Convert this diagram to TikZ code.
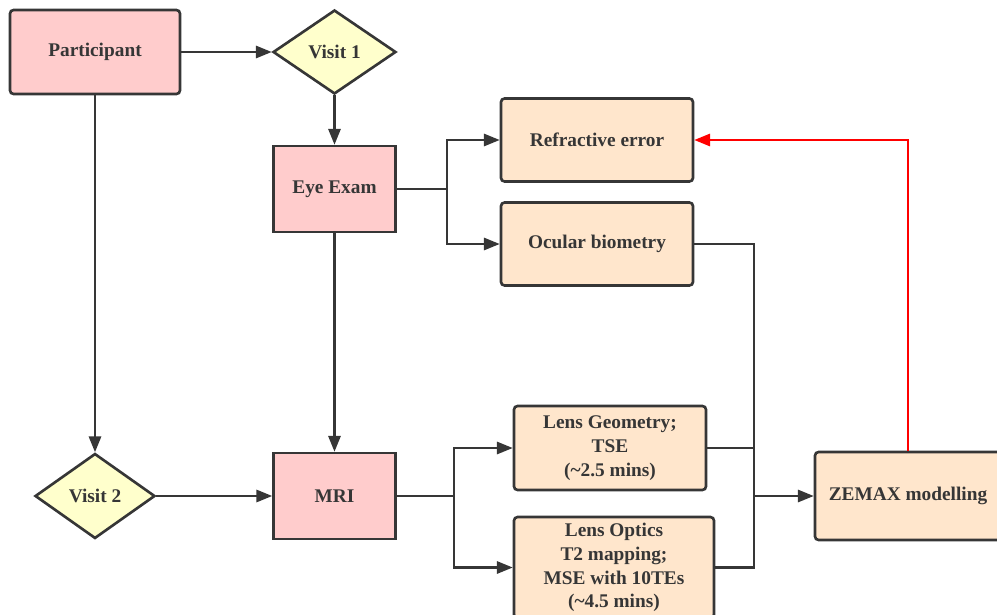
\documentclass[tikz,border=0pt]{standalone}
\usepackage{fontspec}
\setmainfont{Liberation Serif}
\usepackage{tikz}
\definecolor{pink200}{HTML}{FFCCCC}
\definecolor{peach200}{HTML}{FFE6CC}
\definecolor{yellow200}{HTML}{FFFFCC}
\definecolor{gray800}{HTML}{363636}
\usetikzlibrary{arrows.meta,shapes.geometric}
\tikzstyle{block}=[draw=gray800, line width=1.5pt, align=center, text=gray800, font=\bfseries\fontsize{11}{13.6}\selectfont]
\tikzstyle{pinkbox}=[block, fill=pink200, minimum width=2.44cm, minimum height=1.72cm]
\tikzstyle{peachbox}=[block, fill=peach200, rounded corners=2pt, minimum width=3.84cm, minimum height=1.66cm]
\tikzstyle{visit}=[block, diamond, fill=yellow200, aspect=1.46, inner sep=0pt, minimum width=2.46cm, minimum height=1.68cm]
\tikzstyle{wire}=[draw=gray800, line width=1.2pt]
\tikzstyle{link}=[wire, -{Triangle[length=9pt,width=7pt]}]

\begin{document}
\begin{tikzpicture}[x=0.02cm, y=-0.02cm]
			\useasboundingbox (0,0) rectangle (997,615);
			\node[pinkbox, rounded corners=2pt, minimum width=3.4cm, minimum height=1.68cm] (participant) at (95,52) {Participant};
			\node[visit] (visit1) at (334.5,52) {Visit 1};
			\node[pinkbox] (eye) at (334.5,189) {Eye Exam};
			\node[peachbox] (refr) at (597,140) {Refractive error};
			\node[peachbox] (ocular) at (597,244) {Ocular biometry};
			\node[visit, aspect=1.41, minimum width=2.4cm, minimum height=1.7cm] (visit2) at (95,496) {Visit 2};
			\node[pinkbox] (mri) at (334.5,496) {MRI};
			\node[peachbox, minimum height=1.68cm] (geom) at (610,448) {Lens Geometry;\\TSE\\(\textasciitilde2.5 mins)};
			\node[peachbox, minimum width=4cm, minimum height=1.86cm] (optics) at (614,567.5) {Lens Optics\\T2 mapping;\\MSE with 10TEs\\(\textasciitilde4.5 mins)};
			\node[peachbox, minimum width=3.72cm, minimum height=1.76cm] (zemax) at (908,496) {ZEMAX modelling};
			\coordinate (eyesplit) at (447,189);
			\coordinate (mrisplit) at (454,496);
			\coordinate (zjoin) at (754,496);
			\draw[link] (participant) -- (visit1);
			\draw[link] (visit1) -- (eye);
			\draw[link] (participant) -- (visit2);
			\draw[link] (eye) -- (mri);
			\draw[link] (visit2) -- (mri);
			\draw[wire] (eye) -- (eyesplit);
			\draw[link] (eyesplit) |- (refr);
			\draw[link] (eyesplit) |- (ocular);
			\draw[wire] (mri) -- (mrisplit);
			\draw[link] (mrisplit) |- (geom);
			\draw[link] (mrisplit) |- (optics);
			\draw[wire] (ocular.east) -| (zjoin) |- (optics.east);
			\draw[wire] (geom.east) -- (geom.east -| zjoin);
			\draw[link] (zjoin) -- (zemax);
			\draw[link, draw=red, color=red] (zemax.north) |- (refr.east);
		\end{tikzpicture}
\end{document}
